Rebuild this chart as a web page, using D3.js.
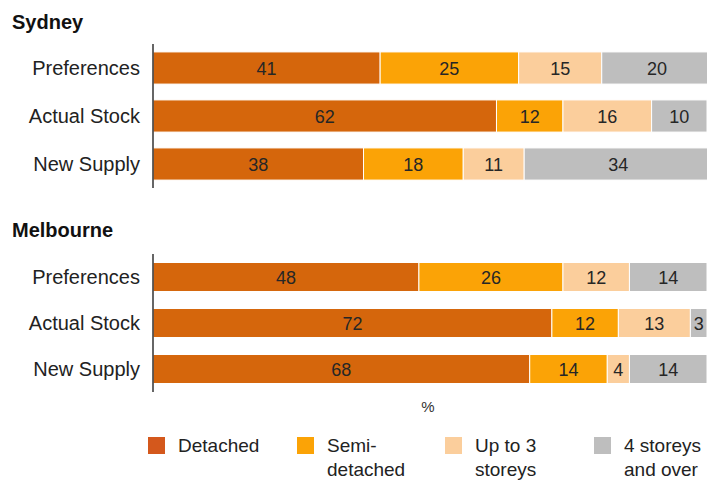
<!DOCTYPE html>
<html><head><meta charset="utf-8">
<script src="https://cdn.jsdelivr.net/npm/d3@7"></script>
<style>body{margin:0;background:#fff;}svg{display:block;font-family:"Liberation Sans",Arial,sans-serif;}</style>
</head><body>
<svg id="c" width="707" height="484"></svg>
<script>
const categories = ["Preferences", "Actual Stock", "New Supply"];
const seriesNames = ["Detached", "Semi-detached", "Up to 3 storeys", "4 storeys and over"];
const legendLabels = [["Detached"], ["Semi-", "detached"], ["Up to 3", "storeys"], ["4 storeys", "and over"]];
const sydneyDetached = [41, 62, 38];
const sydneySemi = [25, 12, 18];
const sydneyUpTo3 = [15, 16, 11];
const sydney4Plus = [20, 10, 34];
const melbDetached = [48, 72, 68];
const melbSemi = [26, 12, 14];
const melbUpTo3 = [12, 13, 4];
const melb4Plus = [14, 3, 14];
const colors = ["#D5660C", "#FBA306", "#FBCE9C", "#BEBEBE"];

const svg = d3.select("#c");
const x = d3.scaleLinear().domain([0, 100]).range([153, 707]);

function panel(title, titleY, series, y0, y1, padIn) {
  svg.append("text").attr("x", 12).attr("y", titleY).attr("font-size", 20).attr("font-weight", "bold").attr("fill", "#111").text(title);
  const y = d3.scaleBand().domain(categories).range([y0, y1]).paddingInner(padIn).paddingOuter(padIn / 2);
  categories.forEach((cat, i) => {
    let cum = 0;
    series.forEach((arr, s) => {
      const v = arr[i];
      const g = svg.append("g");
      g.append("rect").attr("x", x(cum)).attr("y", y(cat)).attr("width", x(cum + v) - x(cum)).attr("height", y.bandwidth())
        .attr("fill", colors[s]).attr("stroke", "#fff").attr("stroke-width", 1);
      g.append("text").attr("x", (x(cum) + x(cum + v)) / 2).attr("y", y(cat) + y.bandwidth() / 2 + 6.5)
        .attr("text-anchor", "middle").attr("font-size", 18).attr("fill", "#262626").text(v);
      cum += v;
    });
    svg.append("text").attr("x", 140).attr("y", y(cat) + y.bandwidth() / 2 + 7).attr("text-anchor", "end")
      .attr("font-size", 20).attr("fill", "#222").text(cat);
  });
  svg.append("line").attr("x1", 153).attr("x2", 153).attr("y1", y0).attr("y2", y1).attr("stroke", "#333").attr("stroke-width", 1.5);
}

panel("Sydney", 29, [sydneyDetached, sydneySemi, sydneyUpTo3, sydney4Plus], 44, 188, 0.33);
panel("Melbourne", 237, [melbDetached, melbSemi, melbUpTo3, melb4Plus], 254, 392, 0.37);

svg.append("text").attr("x", 428).attr("y", 412).attr("text-anchor", "middle").attr("font-size", 15).attr("fill", "#333").text("%");

const lx = [148, 297, 445, 594];
legendLabels.forEach((lines, i) => {
  svg.append("rect").attr("x", lx[i]).attr("y", 437).attr("width", 17).attr("height", 17).attr("fill", i === 0 ? "#D4581C" : colors[i]);
  lines.forEach((t, j) => {
    svg.append("text").attr("x", lx[i] + 30).attr("y", 452 + j * 24).attr("font-size", 19).attr("fill", "#222").text(t);
  });
});
</script>
</body></html>
